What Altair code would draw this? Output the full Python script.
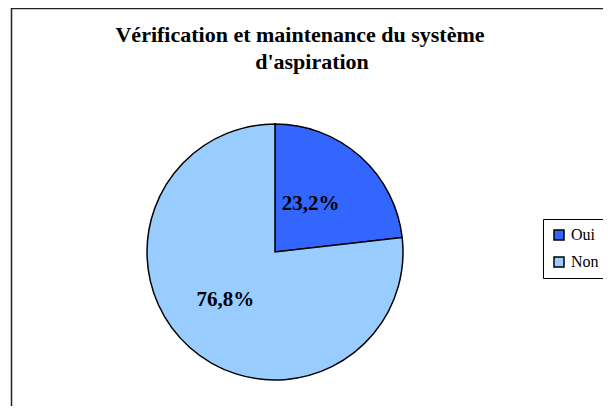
import altair as alt
import pandas as pd

categories = ["Oui", "Non"]
values = [23.2, 76.8]
label_text = ["23,2%", "76,8%"]
title_lines = ["Vérification et maintenance du système", "d'aspiration"]
colors = ["#3366FF", "#99CCFF"]

df = pd.DataFrame({
    "cat": categories,
    "value": values,
    "label": label_text,
    "ord": list(range(len(categories))),
})

FONT = "Liberation Serif, Times New Roman, Times, serif"

base = alt.Chart(df)

border = alt.Chart(df.head(1)).mark_rect(
    fill=None, stroke="#222222", strokeWidth=1.5
).encode(
    x=alt.value(3.5), y=alt.value(-93.5), x2=alt.value(2000), y2=alt.value(2000)
)

pie = base.mark_arc(outerRadius=128, stroke="black", strokeWidth=1.5).encode(
    theta=alt.Theta("value:Q", stack=True),
    color=alt.Color(
        "cat:N",
        scale=alt.Scale(domain=categories, range=colors),
        sort=categories,
        legend=alt.Legend(
            title=None,
            orient="none",
            legendX=535,
            legendY=117,
            strokeColor="black",
            padding=8,
            symbolType="square",
            symbolSize=100,
            symbolStrokeColor="black",
            symbolStrokeWidth=1.5,
            symbolOpacity=1,
            labelFont=FONT,
            labelFontSize=16,
            labelColor="black",
            rowPadding=11,
            labelOffset=4,
        ),
    ),
    order=alt.Order("ord:Q"),
)

labels = base.mark_text(
    font=FONT, fontSize=21, fontWeight="bold", color="black", dx=-7
).encode(
    theta=alt.Theta("value:Q", stack=True),
    radius=alt.value(64),
    text="label:N",
    order=alt.Order("ord:Q"),
)

t1 = alt.Chart(df.head(1)).mark_text(
    font=FONT, fontSize=22, fontWeight="bold", color="black"
).encode(text=alt.datum(title_lines[0]), x=alt.value(292), y=alt.value(-67))

t2 = alt.Chart(df.head(1)).mark_text(
    font=FONT, fontSize=22, fontWeight="bold", color="black"
).encode(text=alt.datum(title_lines[1]), x=alt.value(304), y=alt.value(-40))

chart = alt.layer(border, pie, labels, t1, t2).properties(
    width=534,
    height=300,
    padding={"left": 0, "top": 94, "right": 61, "bottom": 4},
    autosize=alt.AutoSizeParams(type="none"),
).configure(
    background="white",
    view=alt.ViewConfig(stroke=None),
    font=FONT,
)

chart.save("out.html", embed_options={"renderer": "svg", "actions": False})
